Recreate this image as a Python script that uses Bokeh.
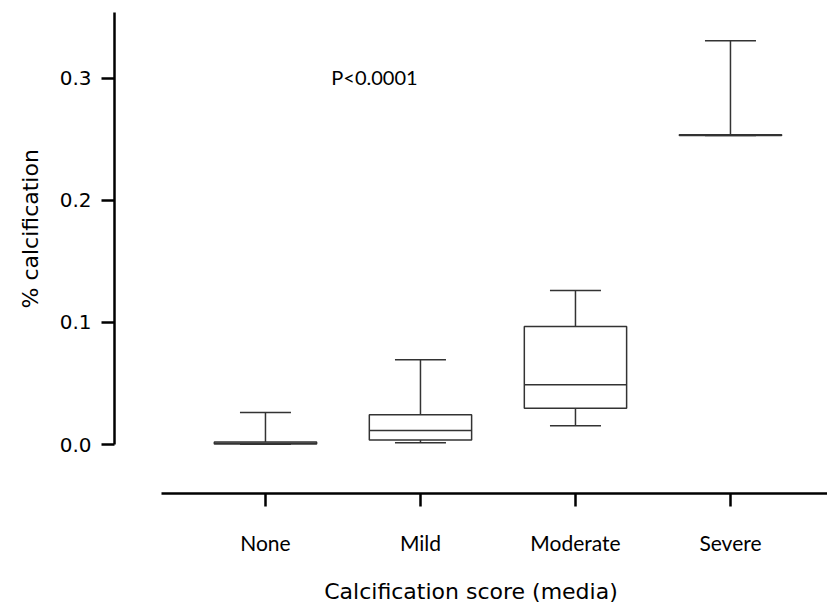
import numpy as np
from bokeh.plotting import figure
from bokeh.models import (LinearAxis, FixedTicker, Whisker, TeeHead, Range1d,
                          ColumnDataSource, Label, Title)
from bokeh.embed import file_html
from bokeh.resources import INLINE

# ---- data ----
categories = ["None", "Mild", "Moderate", "Severe"]
minimum = [0.0003, 0.0014, 0.0153, 0.2530]
q1 = [0.0005, 0.0038, 0.0297, 0.2530]
median = [0.0010, 0.0115, 0.0489, 0.2533]
q3 = [0.0020, 0.0243, 0.0966, 0.2536]
maximum = [0.0262, 0.0694, 0.1261, 0.3306]
y_ticks = [0.0, 0.1, 0.2, 0.3]
y_tick_labels = ["0.0", "0.1", "0.2", "0.3"]
annotation_text = "P<0.0001"
y_title = "% calcification"
x_title = "Calcification score (media)"

xpos = np.arange(len(categories))
box_w = 0.66
y_top = 0.3538

src = ColumnDataSource(dict(
    x=xpos, lo=minimum, q1=q1, med=median, q3=q3, hi=maximum,
    mx0=xpos - box_w / 2, mx1=xpos + box_w / 2,
))

LINE = "#333333"

p = figure(width=827, height=608, output_backend="svg", toolbar_location=None,
           x_range=Range1d(-0.974, 3.626), y_range=Range1d(-0.0401, y_top),
           min_border_left=114, min_border_right=0, min_border_top=12,
           min_border_bottom=115, x_axis_type=None, y_axis_type=None)
p.outline_line_color = None
p.xgrid.visible = False
p.ygrid.visible = False
p.background_fill_color = "white"
p.border_fill_color = "white"

# axes
yax = LinearAxis(ticker=FixedTicker(ticks=y_ticks), bounds=(0, y_top),
                 major_label_overrides={t: l for t, l in zip(y_ticks, y_tick_labels)})
xax = LinearAxis(ticker=FixedTicker(ticks=list(xpos)), bounds=(-0.671, 3.626),
                 major_label_overrides={int(i): c for i, c in zip(xpos, categories)})
xax.axis_label = x_title

for ax in (xax, yax):
    ax.axis_line_width = 2.5
    ax.axis_line_color = "black"
    ax.major_tick_line_width = 2.5
    ax.major_tick_line_color = "black"
    ax.major_tick_in = 0
    ax.major_tick_out = 13
    ax.minor_tick_line_color = None
    ax.axis_label_text_font_style = "normal"
    ax.axis_label_text_color = "black"
    ax.major_label_text_color = "black"

yax.major_label_text_font = "DejaVu Sans"
yax.major_label_text_font_size = "20px"
yax.major_label_standoff = 10

xax.major_label_text_font = "Lato"
xax.major_label_text_font_size = "21px"
xax.major_label_standoff = 23
xax.axis_label_text_font = "DejaVu Sans"
xax.axis_label_text_font_size = "22px"
xax.axis_label_standoff = 21

p.add_layout(yax, "left")
p.add_layout(xax, "below")

# y axis title, shifted to be centred on the drawn part of the axis
p.add_layout(Title(text=y_title, align="left", offset=185, standoff=28,
                   text_font="DejaVu Sans", text_font_size="22px",
                   text_font_style="normal", text_color="black"), "left")

# whiskers
upper = Whisker(source=src, base="x", lower="q3", upper="hi", dimension="height",
                line_color=LINE, line_width=1.5, lower_head=None,
                upper_head=TeeHead(size=51, line_color=LINE, line_width=1.5))
lower = Whisker(source=src, base="x", lower="lo", upper="q1", dimension="height",
                line_color=LINE, line_width=1.5, upper_head=None,
                lower_head=TeeHead(size=51, line_color=LINE, line_width=1.5))
upper.level = "underlay"
lower.level = "underlay"
p.add_layout(upper)
p.add_layout(lower)

# boxes
p.vbar(x="x", width=box_w, bottom="q1", top="q3", source=src,
       fill_color="white", line_color=LINE, line_width=1.5)
p.segment(x0="mx0", x1="mx1", y0="med", y1="med", source=src,
          line_color=LINE, line_width=1.5)

p.add_layout(Label(x=0.703, y=0.3006, text=annotation_text, text_align="center",
                   text_baseline="alphabetic", text_font="Lato",
                   text_font_size="20px", text_color="black"))

open("out.html", "w").write(file_html(p, INLINE))
